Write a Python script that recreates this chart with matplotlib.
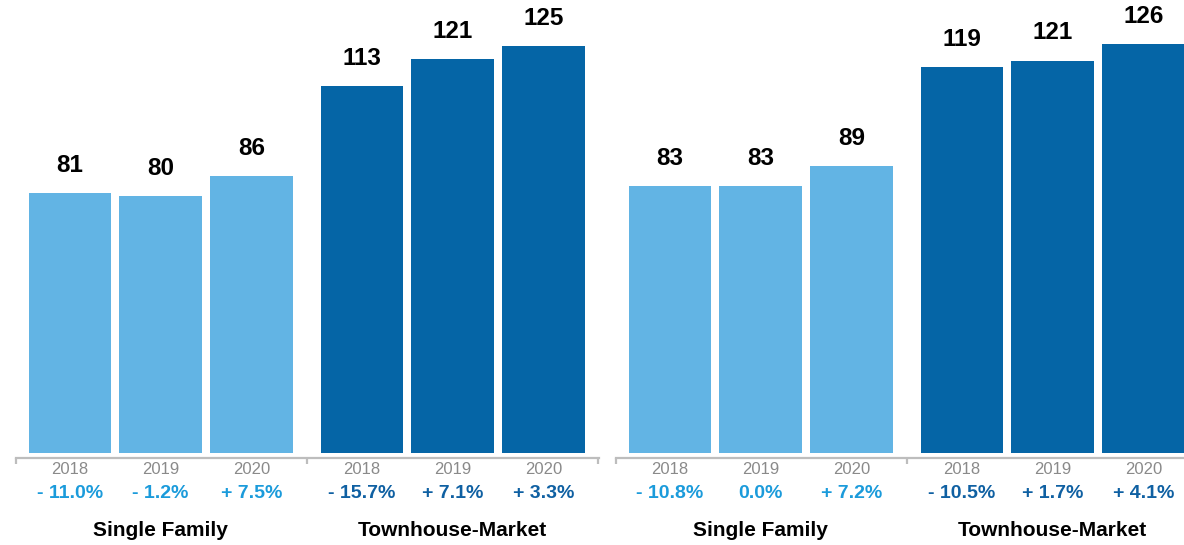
import matplotlib
matplotlib.use("Agg")
import matplotlib.pyplot as plt

plt.rcParams['font.family'] = ['Liberation Sans', 'DejaVu Sans']

# data
years = ["2018", "2019", "2020"]
groups = ["Single Family", "Townhouse-Market"]

left_sf = [81, 80, 86]
left_th = [113, 121, 125]
left_sf_chg = ["- 11.0%", "- 1.2%", "+ 7.5%"]
left_th_chg = ["- 15.7%", "+ 7.1%", "+ 3.3%"]

right_sf = [83, 83, 89]
right_th = [119, 121, 126]
right_sf_chg = ["- 10.8%", "0.0%", "+ 7.2%"]
right_th_chg = ["- 10.5%", "+ 1.7%", "+ 4.1%"]

LIGHT = "#62b4e4"
DARK = "#0565a6"
LIGHT_TXT = "#1b9bdb"
DARK_TXT = "#0f60a2"
GRAY = "#bdbdbd"

W, H = 1184, 545
fig = plt.figure(figsize=(W / 100, H / 100), dpi=100)

pos_sf = [0, 1, 2]
pos_th = [3.22, 4.22, 5.22]
xmin, xmax = -0.6, 5.83
px_per_unit = 90.7


def panel(left_px, sf, th, sf_chg, th_chg, ylo, yhi):
    width_px = (xmax - xmin) * px_per_unit
    ax = fig.add_axes([left_px / W, 92 / H, width_px / W, 453 / H])
    ax.bar(pos_sf, sf, width=0.91, color=LIGHT)
    ax.bar(pos_th, th, width=0.91, color=DARK)
    ax.set_xlim(xmin, xmax)
    ax.set_ylim(ylo, yhi)

    for s in ["top", "left", "right"]:
        ax.spines[s].set_visible(False)
    ax.spines["bottom"].set_position(("outward", 3.6))
    ax.spines["bottom"].set_color(GRAY)
    ax.spines["bottom"].set_linewidth(1.6)
    ax.set_yticks([])
    ax.set_xticks([xmin + 0.005, (pos_sf[-1] + pos_th[0]) / 2, xmax - 0.005])
    ax.set_xticklabels([])
    ax.tick_params(axis="x", direction="out", length=4.5, width=1.6, color=GRAY)

    tr = ax.get_xaxis_transform()
    for xs, vals, chg, col in [(pos_sf, sf, sf_chg, LIGHT_TXT), (pos_th, th, th_chg, DARK_TXT)]:
        for x, v, y, c in zip(xs, vals, years, chg):
            ax.annotate(str(v), (x, v), xytext=(0, 20), textcoords="offset points",
                        ha="center", va="center", fontsize=17.5, fontweight="bold",
                        color="black", annotation_clip=False)
            ax.annotate(y, (x, 0), xycoords=tr, xytext=(0, -12), textcoords="offset points",
                        ha="center", va="center", fontsize=12, color="#8a8a8a",
                        annotation_clip=False)
            ax.annotate(c, (x, 0), xycoords=tr, xytext=(0, -29.5), textcoords="offset points",
                        ha="center", va="center", fontsize=14, fontweight="bold",
                        color=col, annotation_clip=False)
    for xs, g in zip([pos_sf, pos_th], groups):
        ax.annotate(g, (xs[1], 0), xycoords=tr, xytext=(0, -55.5), textcoords="offset points",
                    ha="center", va="center", fontsize=15, fontweight="bold",
                    color="black", annotation_clip=False)
    return ax


panel(15.5, left_sf, left_th, left_sf_chg, left_th_chg, 3.17, 3.17 + 453 / 3.34)
panel(615.5, right_sf, right_th, right_sf_chg, right_th_chg, 2.12, 2.12 + 453 / 3.30)

fig.savefig("out.png", dpi=100)
